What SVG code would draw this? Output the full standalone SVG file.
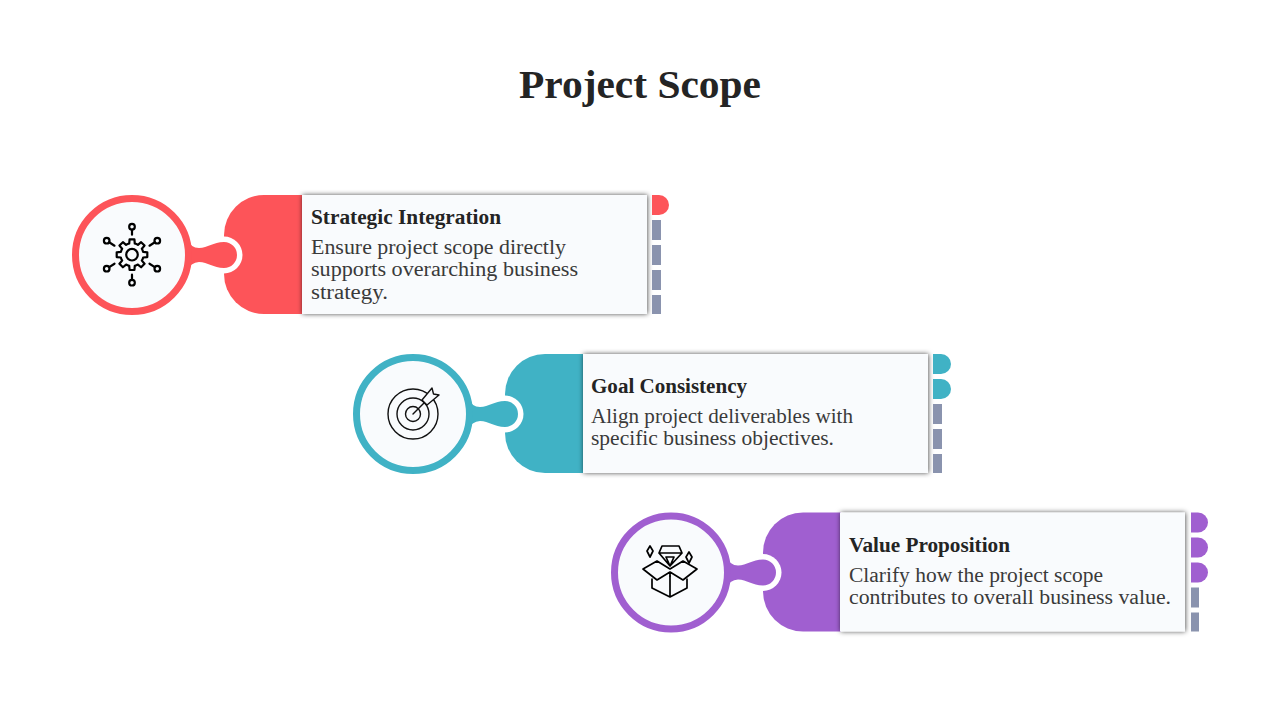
<svg xmlns="http://www.w3.org/2000/svg" width="1280" height="720" viewBox="0 0 1280 720">
<style>
text{font-family:"Liberation Serif","DejaVu Serif",serif}
.title{font-size:40px;font-weight:700;fill:#242424}
.h{font-size:20px;font-weight:700;fill:#242424}
.b{font-size:20px;fill:#3a3a3a}
.disc{fill:#f9fbfd;stroke-width:7}
.panel{fill:#f9fbfd;filter:url(#sh)}
.gray{fill:#8a93ae}
.ic{fill:none;stroke:#000;stroke-width:2.2;stroke-linejoin:round;stroke-linecap:round}
.ic2{fill:none;stroke:#111;stroke-width:1.4;stroke-linejoin:round;stroke-linecap:round}
.ic3{fill:none;stroke:#000;stroke-width:1.7;stroke-linejoin:round;stroke-linecap:round}
.red{fill:#fd5459}.teal{fill:#40b2c5}.pur{fill:#a05fd0}
</style>
<defs>
<filter id="sh" x="-5%" y="-10%" width="110%" height="120%"><feDropShadow dx="0.500" dy="0" stdDeviation="2.500" flood-color="#000" flood-opacity=".7"/></filter>
<path id="tab" d="M302 195H264A40 40 0 0 0 224 235V274A40 40 0 0 0 264 314H302Z"/>
<path id="neck" d="M186 238Q191 248 199 248C208 248 213 242 224 242A13 13 0 0 1 224 268C213 268 208 262 199 262Q191 262 186 272Z"/>
<path id="ctab" d="M652 195H659A10 10 0 0 1 659 215H652Z"/>
</defs>
<text class="title" x="640" y="98" text-anchor="middle" textLength="242" lengthAdjust="spacingAndGlyphs">Project Scope</text>
<g id="connectors"></g>
<g id="node-strategic">
<use href="#tab" class="red"/>
<circle cx="224" cy="255" r="18.500" fill="#fff"/>
<use href="#neck" class="red"/>
<circle class="disc" cx="132" cy="255" r="56.500" stroke="#fd5459"/>
<rect class="panel" x="302" y="195" width="345" height="119"/>
<use href="#ctab" class="red"/>
<rect class="gray" x="652" y="220" width="9" height="20"/><rect class="gray" x="652" y="245" width="9" height="20"/><rect class="gray" x="652" y="270" width="9" height="20"/><rect class="gray" x="652" y="295" width="9" height="19"/>
<g class="ic" transform="translate(132 254.700)">
<path d="M11.16 -2.78L15.3 -2.42L15.3 2.42L11.16 2.78A11.5 11.5 0 0 1 9.86 5.92L12.54 9.11L9.11 12.54L5.92 9.86A11.5 11.5 0 0 1 2.78 11.16L2.42 15.3L-2.42 15.3L-2.78 11.16A11.5 11.5 0 0 1 -5.92 9.86L-9.11 12.54L-12.54 9.11L-9.86 5.92A11.5 11.5 0 0 1 -11.16 2.78L-15.3 2.42L-15.3 -2.42L-11.16 -2.78A11.5 11.5 0 0 1 -9.86 -5.92L-12.54 -9.11L-9.11 -12.54L-5.92 -9.86A11.5 11.5 0 0 1 -2.78 -11.16L-2.42 -15.3L2.42 -15.3L2.78 -11.16A11.5 11.5 0 0 1 5.92 -9.86L9.11 -12.54L12.54 -9.11L9.86 -5.92A11.5 11.5 0 0 1 11.16 -2.78Z"/>
<circle r="5.800"/>
<circle cy="-28" r="2.800"/><path d="M0 -25V-20"/>
<circle cy="28" r="2.800"/><path d="M0 25V20"/>
<circle cx="25.300" cy="-14" r="2.800"/><path d="M22.800 -12.400L17.500 -9"/>
<circle cx="-25.300" cy="-14" r="2.800"/><path d="M-22.800 -12.400L-17.500 -9"/>
<circle cx="25.300" cy="14" r="2.800"/><path d="M22.800 12.400L17.500 9"/>
<circle cx="-25.300" cy="14" r="2.800"/><path d="M-22.800 12.400L-17.500 9"/>
</g>
<text class="h" x="311" y="224" textLength="190" lengthAdjust="spacingAndGlyphs">Strategic Integration</text>
<text class="b" x="311" y="254" textLength="255" lengthAdjust="spacingAndGlyphs">Ensure project scope directly</text>
<text class="b" x="311" y="276" textLength="267" lengthAdjust="spacingAndGlyphs">supports overarching business</text>
<text class="b" x="311" y="299" textLength="77" lengthAdjust="spacingAndGlyphs">strategy.</text>
</g>
<g id="node-goal">
<g transform="translate(281 159)">
<use href="#tab" class="teal"/>
<circle cx="224" cy="255" r="18.500" fill="#fff"/>
<use href="#neck" class="teal"/>
<circle class="disc" cx="132" cy="255" r="56.500" stroke="#40b2c5"/>
<rect class="panel" x="302" y="195" width="345" height="119"/>
<path class="teal" d="M652 195H660A10 10 0 0 1 660 215H652Z"/>
<path class="teal" d="M652 220H660A10 10 0 0 1 660 240H652Z"/>
<rect class="gray" x="652" y="245" width="9" height="20"/><rect class="gray" x="652" y="270" width="9" height="20"/><rect class="gray" x="652" y="295" width="9" height="19"/>
</g>
<g class="ic2">
<circle cx="413" cy="414" r="25"/><circle cx="413" cy="414" r="16"/><circle cx="413" cy="414" r="7.500"/>
<path d="M413 414L425 402"/>
<path fill="#f9fbfd" d="M422 400L432 388L433.500 394L439 395L427 405Z"/>
</g>
<text class="h" x="591" y="393" textLength="156" lengthAdjust="spacingAndGlyphs">Goal Consistency</text>
<text class="b" x="591" y="423" textLength="262" lengthAdjust="spacingAndGlyphs">Align project deliverables with</text>
<text class="b" x="591" y="445" textLength="243" lengthAdjust="spacingAndGlyphs">specific business objectives.</text>
</g>
<g id="node-value">
<g transform="translate(539 317.500)">
<use href="#tab" class="pur"/>
<circle cx="224" cy="255" r="18.500" fill="#fff"/>
<use href="#neck" class="pur"/>
<circle class="disc" cx="132" cy="255" r="56.500" stroke="#a05fd0"/>
<rect class="panel" x="301" y="195" width="345" height="119"/>
<use href="#ctab" class="pur"/>
<path class="pur" d="M652 220H659A10 10 0 0 1 659 240H652Z"/>
<path class="pur" d="M652 245H659A10 10 0 0 1 659 265H652Z"/>
<rect class="gray" x="652" y="270" width="8" height="20"/><rect class="gray" x="652" y="295" width="8" height="19"/>
</g>
<g class="ic3">
<path d="M670 576L670 597M652 579V588L670 597L687 588V579"/>
<path d="M643 569L657 561L670 569L683 561L697 569L683 580L670 572L657 580ZM670 572V576"/>
<path d="M662 546H679L682 553L670 566L659 553ZM659 553H682M666 557H674L670 566Z"/>
<path d="M650 546L653 551L650 557L647 551Z"/>
<path d="M689 552L692 557L689 563L686 557Z"/>
</g>
<text class="h" x="849" y="552" textLength="161" lengthAdjust="spacingAndGlyphs">Value Proposition</text>
<text class="b" x="849" y="582" textLength="254" lengthAdjust="spacingAndGlyphs">Clarify how the project scope</text>
<text class="b" x="849" y="604" textLength="322" lengthAdjust="spacingAndGlyphs">contributes to overall business value.</text>
</g>
</svg>
